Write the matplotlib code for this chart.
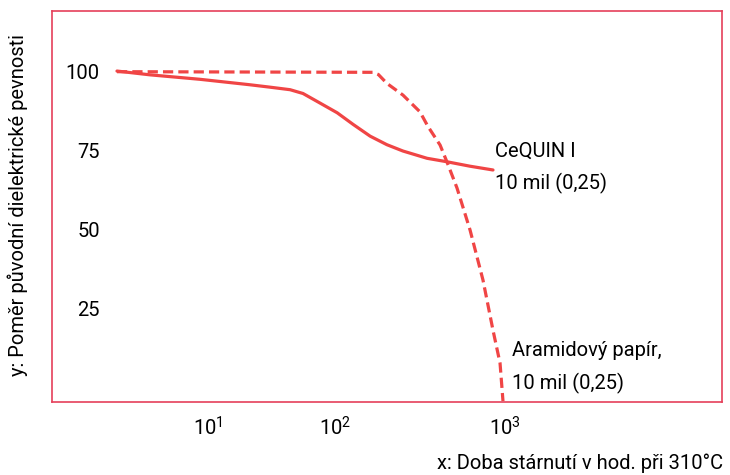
import numpy as np
import matplotlib
matplotlib.use('Agg')
import matplotlib.pyplot as plt

# CeQUIN I (solid) - hours vs % of original dielectric strength
cequin_hours = [1.92, 3.5, 8.6, 21, 30.8, 44.3, 56, 76, 103, 128, 161, 202, 251, 348, 456, 622, 850]
cequin_ratio = [100, 98.8, 97.4, 95.7, 94.9, 94.1, 92.9, 89.9, 86.8, 83.1, 79.4, 76.7, 74.7, 72.4, 71.3, 69.9, 68.7]

# Aramid paper (dashed)
aramid_hours = [1.92, 167, 180, 202, 251, 316, 352, 415, 456, 522, 623, 742, 850, 935, 973]
aramid_ratio = [99.8, 99.6, 98.9, 96.1, 92.4, 87.1, 82.5, 76.6, 71.2, 63.0, 49.7, 33.9, 18.0, 7.6, -4.4]

xticks = [10, 100, 1000]
xtick_labels = ['$10^{1}$', '$10^{2}$', '$10^{3}$']
yticks = [25, 50, 75, 100]

plt.rcParams['font.family'] = ['Roboto', 'DejaVu Sans']
plt.rcParams['mathtext.fontset'] = 'custom'
plt.rcParams['mathtext.rm'] = 'Roboto'
plt.rcParams['mathtext.it'] = 'Roboto'

# the printed axis is not evenly spaced per decade
knots_log = [-1, 1, 2, 3, 6]
knots_pos = [-46, 208, 335, 505, 1015]

def fwd(x):
    x = np.asarray(x, dtype=float)
    return np.interp(np.log10(np.maximum(x, 1e-12)), knots_log, knots_pos)

def inv(p):
    return 10 ** np.interp(np.asarray(p, dtype=float), knots_pos, knots_log)

red = '#f04545'
border = '#e5405a'
fs = 14.5

fig = plt.figure(figsize=(7.3, 4.75), dpi=100)
ax = fig.add_axes([52 / 730, 1 - 402 / 475, 670 / 730, 391 / 475])
ax.set_xscale('function', functions=(fwd, inv))

ax.plot(cequin_hours, cequin_ratio, color=red, lw=2.3, solid_capstyle='round',
        solid_joinstyle='round')
ax.plot(aramid_hours, aramid_ratio, color=red, lw=2.3, dashes=(3.2, 1.6))

ax.set_xlim(inv(52), inv(722))
ax.set_ylim(-4.7, 119)

ax.set_xticks(xticks)
ax.set_xticklabels(xtick_labels)
ax.xaxis.set_minor_locator(matplotlib.ticker.NullLocator())
ax.set_yticks(yticks)
ax.set_yticklabels([str(v) for v in yticks])
ax.tick_params(axis='y', length=0, pad=-34.5, labelsize=fs)
ax.tick_params(axis='x', length=0, pad=10, labelsize=fs)

for s in ax.spines.values():
    s.set_color(border)
    s.set_linewidth(1.2)

ax.text(inv(495), 74.5, 'CeQUIN I', fontsize=fs, va='center', ha='left')
ax.text(inv(495), 64.5, '10 mil (0,25)', fontsize=fs, va='center', ha='left')
ax.text(inv(512), 11.7, 'Aramidový papír,', fontsize=fs, va='center', ha='left')
ax.text(inv(512), 1.3, '10 mil (0,25)', fontsize=fs, va='center', ha='left')

fig.text(18 / 730, 1 - 205 / 475, 'y: Poměr původní dielektrické pevnosti', rotation=90,
         fontsize=fs, ha='center', va='center')
fig.text(723 / 730, 1 - 463 / 475, 'x: Doba stárnutí v hod. při 310°C', fontsize=fs,
         ha='right', va='center')

fig.savefig('out.png', dpi=100)
